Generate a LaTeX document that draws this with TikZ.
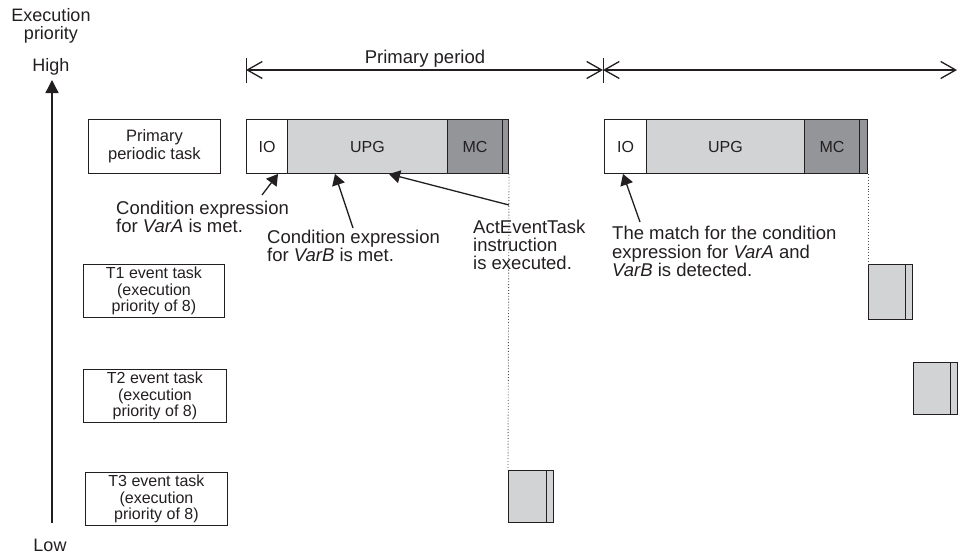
\documentclass[tikz,border=0pt]{standalone}
\usepackage{fontspec}
\setmainfont{Liberation Sans}
\usetikzlibrary{arrows.meta}
\definecolor{ln}{HTML}{231F20}
\definecolor{tx}{HTML}{231F20}
\definecolor{lg}{HTML}{D1D3D4}
\definecolor{dg}{HTML}{939598}
\begin{document}
\begin{tikzpicture}[x=1pt,y=-1pt,
  lbl/.style={draw=ln, line width=0.9pt, inner sep=0pt, anchor=north west, align=center,
    font=\fontsize{16}{16.7}\selectfont, text=tx},
  seg/.style={draw=ln, line width=1pt, inner sep=0pt, anchor=north west,
    minimum height=54pt, font=\fontsize{16}{16}\selectfont, text=tx},
  blk/.style={draw=ln, line width=1pt, inner sep=0pt, anchor=north west, fill=lg},
  note/.style={inner sep=0pt, anchor=north west, align=left, text=tx,
    font=\fontsize{18.5}{17.8}\selectfont},
  ann/.style={draw=ln, line width=1.3pt, -{Triangle[length=11pt,width=13pt]}},
  per/.style={draw=ln, line width=1.3pt, {Straight Barb[length=15pt,width=17pt]}-{Straight Barb[length=15pt,width=17pt]}},
  tick/.style={draw=ln, line width=1pt},
  dots/.style={draw=ln!80, line width=0.9pt, dotted}
]
\path[use as bounding box] (0,0) rectangle (958,557);

% priority axis
\node[text=tx, align=center, font=\fontsize{18}{18.5}\selectfont] (ep) at (51,26) {Execution\\priority};
\node[text=tx, font=\fontsize{18}{18}\selectfont] (high) at (51,67) {High};
\node[text=tx, font=\fontsize{18}{18}\selectfont] (low) at (50,545) {Low};
\coordinate (axb) at (52,523);
\coordinate (axt) at (52,80);
\draw[draw=ln, line width=1.4pt, -{Triangle[length=13pt,width=13pt]}] (axb) -- (axt);

% task labels
\node[lbl, minimum width=132pt, minimum height=54pt, font=\fontsize{16.5}{18}\selectfont] (ppt) at (88,119) {Primary\\periodic task};
\node[lbl, minimum width=141pt, minimum height=53pt] (t1) at (83,264) {T1 event task\\(execution\\priority of 8)};
\node[lbl, minimum width=143pt, minimum height=53pt] (t2) at (83,369) {T2 event task\\(execution\\priority of 8)};
\node[lbl, minimum width=142pt, minimum height=53pt] (t3) at (85,472) {T3 event task\\(execution\\priority of 8)};

% period arrows
\coordinate (k1t) at (246,58); \coordinate (k1b) at (246,83);
\coordinate (k2t) at (603,58); \coordinate (k2b) at (603,83);
\coordinate (p1a) at (246,70); \coordinate (p1b) at (603,70);
\coordinate (p2a) at (603,70); \coordinate (p2b) at (957,70);
\draw[tick] (k1t) -- (k1b);
\draw[tick] (k2t) -- (k2b);
\draw[per] (p1a) -- (p1b);
\draw[per] (p2a) -- (p2b);
\node[text=tx, font=\fontsize{18.5}{18}\selectfont] (pp) at (425,59) {Primary period};

% first period bar
\node[seg, minimum width=41pt, fill=white] (io1) at (246,119) {IO};
\node[seg, minimum width=160pt, fill=lg] (upg1) at (287,119) {UPG};
\node[seg, minimum width=55pt, fill=dg] (mc1) at (447,119) {MC};
\node[seg, minimum width=6pt, fill=dg] (s1) at (502,119) {};

% second period bar
\node[seg, minimum width=42pt, fill=white] (io2) at (604,119) {IO};
\node[seg, minimum width=158pt, fill=lg] (upg2) at (646,119) {UPG};
\node[seg, minimum width=55pt, fill=dg] (mc2) at (804,119) {MC};
\node[seg, minimum width=8pt, fill=dg] (s2) at (859,119) {};

% event task executions
\node[blk, minimum width=38pt, minimum height=52pt] (e3a) at (508,470) {};
\node[blk, minimum width=7pt, minimum height=52pt] (e3b) at (546,470) {};
\node[blk, minimum width=37pt, minimum height=55pt] (e1a) at (868,264) {};
\node[blk, minimum width=7pt, minimum height=55pt] (e1b) at (905,264) {};
\node[blk, minimum width=37pt, minimum height=52pt] (e2a) at (913,362) {};
\node[blk, minimum width=7pt, minimum height=52pt] (e2b) at (950,362) {};

% dotted links
\draw[dots] (s1.south east) -- (e3a.north west);
\draw[dots] (s2.south east) -- (e1a.north west);

% annotations
\node[note] (na) at (116,201) {Condition expression\\for \textit{VarA} is met.};
\node[note] (nb) at (267,230) {Condition expression\\for \textit{VarB} is met.};
\node[note] (nc) at (473,220) {ActEventTask\\instruction\\is executed.};
\node[note, font=\fontsize{18.5}{18.5}\selectfont] (nd) at (612,226) {The match for the condition\\expression for \textit{VarA} and\\\textit{VarB} is detected.};

\coordinate (aA1) at (262,195); \coordinate (aA2) at (278,174);
\coordinate (aB1) at (353,228); \coordinate (aB2) at (335,174);
\coordinate (aC1) at (509,205); \coordinate (aC2) at (389,174);
\coordinate (aD1) at (640,222); \coordinate (aD2) at (623,174);
\draw[ann] (aA1) -- (aA2);
\draw[ann] (aB1) -- (aB2);
\draw[ann] (aC1) -- (aC2);
\draw[ann] (aD1) -- (aD2);
\end{tikzpicture}
\end{document}
